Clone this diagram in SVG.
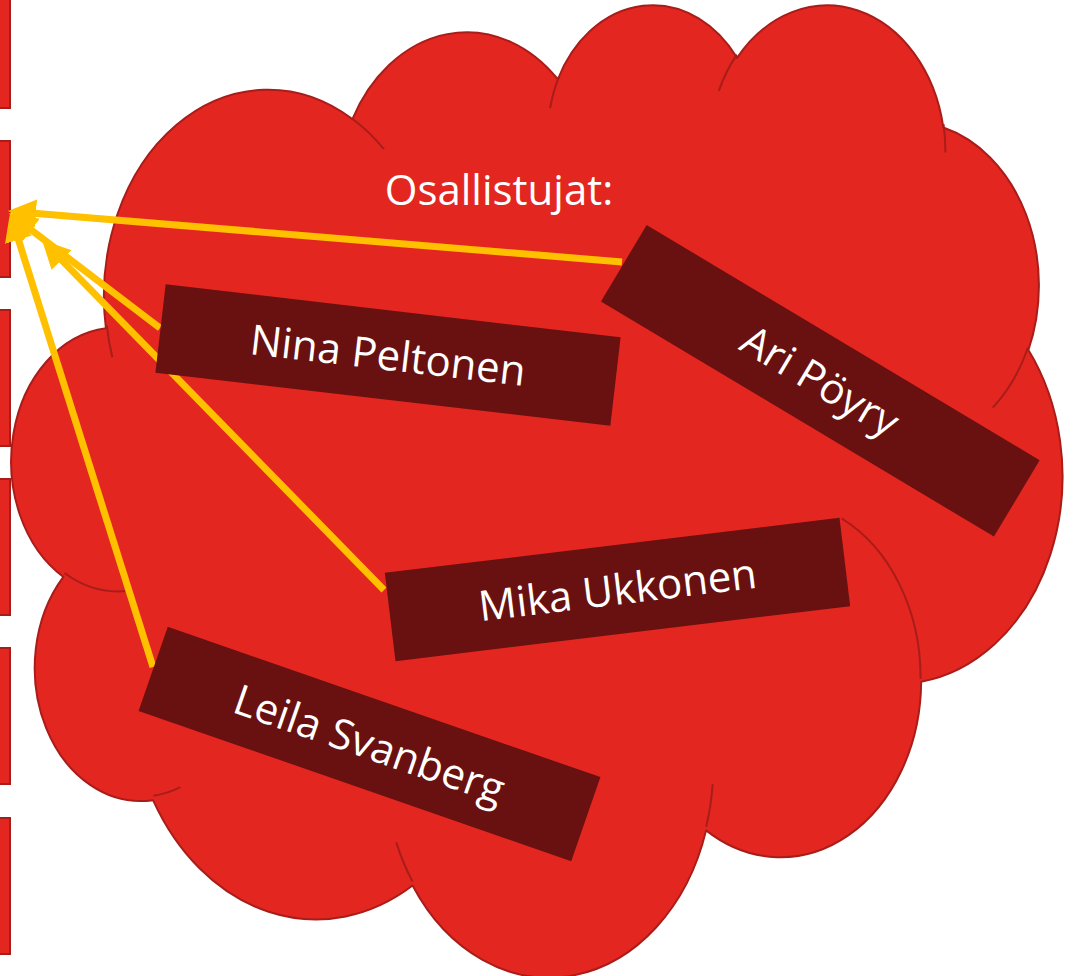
<svg xmlns="http://www.w3.org/2000/svg" width="1076" height="976" viewBox="0 0 1076 976">
<defs>
<style>
.side{fill:#E42620;stroke:#A81D1A;stroke-width:2}
.cloud{fill:#E42620;stroke:#A81D1A;stroke-width:2;stroke-linejoin:round}
.inner{fill:none;stroke:#A81D1A;stroke-width:2}
.box{fill:#681110}
.lbl{font-family:'Open Sans','Noto Sans',sans-serif;font-size:42px;fill:#FFFFFF;text-anchor:middle}
.con{stroke:#FFC000;stroke-width:7;fill:none;marker-end:url(#ah)}
</style>
<marker id="ah" markerUnits="userSpaceOnUse" markerWidth="30" markerHeight="30" viewBox="0 0 30 30" refX="2" refY="15" orient="auto">
<path d="M0,1 L28,15 L0,29 Z" fill="#FFC000"/>
</marker>
</defs>
<rect width="1076" height="976" fill="#FFFFFF"/>
<g id="side-bars">
<rect class="side" x="-10" y="-28" width="20" height="136"/>
<rect class="side" x="-10" y="141" width="20" height="136"/>
<rect class="side" x="-10" y="310" width="20" height="136"/>
<rect class="side" x="-10" y="479" width="20" height="136"/>
<rect class="side" x="-10" y="648" width="20" height="136"/>
<rect class="side" x="-10" y="818" width="20" height="136"/>
</g>
<g id="cloud" transform="translate(12,2) scale(0.024306,0.0225)">
<path class="cloud" vector-effect="non-scaling-stroke" d="M3864 14505 A6753 9190 0 0 1 14004.8 5201.3 A5333 7267 0 0 1 22456.5 3433.2 A4365 5945 0 0 1 29833.1 2482.8 A4857 6595 0 0 1 38317.3 5579.6 A5333 7273 0 0 1 41817.7 15463.4 A6775 9220 0 0 1 37404.3 30207.3 A5785 7867 0 0 1 28555.8 36817.4 A6752 9215 0 0 1 16480.4 39269 A7720 10543 0 0 1 5803.5 35473.2 A4360 5918 0 0 1 2113.9 25549.1 A4345 5945 0 0 1 3864 14505 Z"/>
<path class="inner" vector-effect="non-scaling-stroke" d="M4693 26177 A4345 5945 0 0 1 2160 25380 M6928 34899 A4360 5918 0 0 1 5819 35280 M16478 39090 A6752 9215 0 0 1 15810 37350 M28827 34751 A6752 9215 0 0 1 28560 36660 M34129 22954 A5785 7867 0 0 1 37380 30089 M41798 15354 A5333 7273 0 0 1 40350 18030 M38324 5426 A4857 6595 0 0 1 38400 6690 M29078 3952 A4857 6595 0 0 1 29821 2339 M22141 4720 A4365 5945 0 0 1 22500 3329 M14000 5192 A6753 9190 0 0 1 15301 6542 M4127 15789 A6753 9190 0 0 1 3900 14371"/>
</g>
<g id="title">
<text class="lbl" x="499" y="205">Osallistujat:</text>
</g>
<g id="connectors">
<line class="con" x1="622" y1="262" x2="33.9" y2="213.2"/>
<line class="con" x1="160" y1="328" x2="29.7" y2="228.8"/>
<line class="con" x1="384" y1="590" x2="60.2" y2="258.6"/>
<line class="con" x1="153" y1="667" x2="17.8" y2="237.8"/>
</g>
<g id="nina" transform="translate(388,355) rotate(6.63)">
<rect class="box" x="-229" y="-44.5" width="458" height="89"/>
<text class="lbl" x="0" y="15">Nina Peltonen</text>
</g>
<g id="ari" transform="translate(820.3,380.8) rotate(30.9)">
<rect class="box" x="-229" y="-44.5" width="458" height="89"/>
<text class="lbl" x="0" y="15">Ari Pöyry</text>
</g>
<g id="mika" transform="translate(617.5,589.5) rotate(-6.9)">
<rect class="box" x="-229" y="-44.5" width="458" height="89"/>
<text class="lbl" x="0" y="15">Mika Ukkonen</text>
</g>
<g id="leila" transform="translate(369.5,744) rotate(19.15)">
<rect class="box" x="-229" y="-44.5" width="458" height="89"/>
<text class="lbl" x="0" y="15">Leila Svanberg</text>
</g>
</svg>
